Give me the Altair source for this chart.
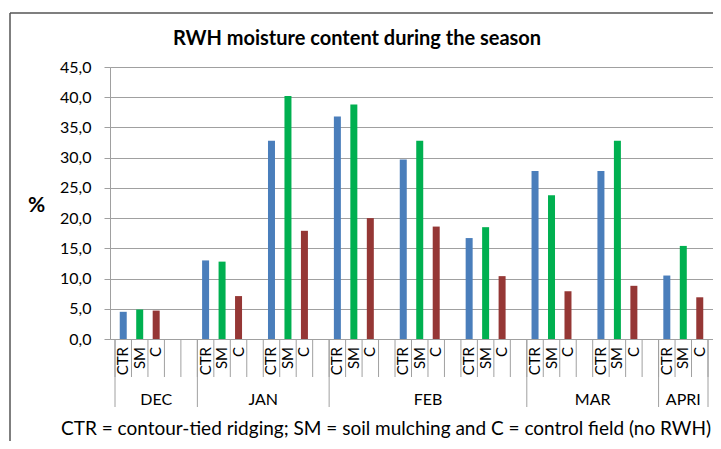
import altair as alt
import pandas as pd

# ---- data ----
treatments = ["CTR", "SM", "C"]
colors = ["#4A7EBB", "#00B050", "#953735"]
date_month = ["DEC", "JAN", "JAN", "FEB", "FEB", "FEB", "MAR", "MAR", "APRI"]
gap_after = [2, 1, 1, 1, 1, 1, 1, 1, 0]  # empty category slots after each date
ctr = [4.5, 13.0, 32.8, 36.8, 29.7, 16.7, 27.8, 27.8, 10.5]
sm = [4.9, 12.8, 40.2, 38.8, 32.8, 18.5, 23.8, 32.8, 15.4]
c = [4.7, 7.1, 17.9, 20.0, 18.6, 10.4, 7.9, 8.8, 6.9]
months = ["DEC", "JAN", "FEB", "MAR", "APRI"]
y_ticks = [0, 5, 10, 15, 20, 25, 30, 35, 40, 45]
title_text = "RWH moisture content during the season"
caption_text = "CTR = contour-tied ridging; SM = soil mulching and C = control field (no RWH)"

# ---- build slot table ----
rows, labels = [], []
slot = 0
month_span = {}
for i, m in enumerate(date_month):
    start = slot
    for t, v in zip(treatments, [ctr[i], sm[i], c[i]]):
        rows.append({"pos": slot + 0.5, "treatment": t, "value": v})
        labels.append({"pos": slot + 0.5, "label": t})
        slot += 1
    slot += gap_after[i]
    s, e = month_span.get(m, (start, slot))
    month_span[m] = (min(s, start), slot)
n_slots = slot

bars_df = pd.DataFrame(rows)
labels_df = pd.DataFrame(labels)
slot_bounds = pd.DataFrame({"b": list(range(n_slots + 1))})
month_bounds = sorted({v for m in months for v in month_span[m]})
month_bounds_df = pd.DataFrame({"b": month_bounds})
month_df = pd.DataFrame({"month": months,
                         "mid": [(month_span[m][0] + month_span[m][1]) / 2 for m in months]})
one = pd.DataFrame({"t": [0]})

W, H = 603, 272
FONT = "Lato"
GRID = "#A0A0A0"

xs = alt.Scale(domain=[0, n_slots], nice=False, zero=False)
ys = alt.Scale(domain=[0, 45], nice=False)

bars = alt.Chart(bars_df).mark_bar(size=7, orient="vertical").encode(
    x=alt.X("pos:Q", scale=xs, axis=None),
    y=alt.Y("value:Q", scale=ys, stack=None,
            axis=alt.Axis(values=y_ticks,
                          labelExpr="replace(format(datum.value, '.1f'), '.', ',')",
                          grid=True, gridColor=GRID, gridWidth=1,
                          domainColor=GRID, tickColor=GRID, tickSize=6,
                          labelFont=FONT, labelFontSize=16, labelColor="#000",
                          labelPadding=13,
                          title="%", titleAngle=0, titleFont=FONT, titleFontSize=21,
                          titleFontWeight="bold", titleColor="#000",
                          titleX=-74, titleY=138, titleAlign="center",
                          titleBaseline="middle")),
    color=alt.Color("treatment:N", scale=alt.Scale(domain=treatments, range=colors),
                    legend=None),
)

slot_rules = alt.Chart(slot_bounds).mark_rule(color=GRID, strokeWidth=1).encode(
    x=alt.X("b:Q", scale=xs, axis=None),
    y=alt.value(H), y2=alt.value(H + 38),
)

month_rules = alt.Chart(month_bounds_df).mark_rule(color=GRID, strokeWidth=1).encode(
    x=alt.X("b:Q", scale=xs, axis=None),
    y=alt.value(H), y2=alt.value(H + 68),
)

cat_labels = alt.Chart(labels_df).mark_text(
    angle=270, align="right", baseline="middle", font=FONT, fontSize=15, color="#000"
).encode(
    x=alt.X("pos:Q", scale=xs, axis=None),
    y=alt.value(H + 8),
    text="label:N",
)

month_labels = alt.Chart(month_df).mark_text(
    align="center", baseline="middle", font=FONT, fontSize=16, color="#000"
).encode(
    x=alt.X("mid:Q", scale=xs, axis=None),
    y=alt.value(H + 61),
    text="month:N",
)

caption = alt.Chart(one).mark_text(
    align="center", baseline="alphabetic", font=FONT, fontSize=19, color="#000"
).encode(x=alt.value(276), y=alt.value(H + 96), text=alt.value(caption_text))

title = alt.Chart(one).mark_text(
    align="center", baseline="middle", font=FONT, fontSize=20, fontWeight="bold",
    color="#000"
).encode(x=alt.value(247), y=alt.value(-28), text=alt.value(title_text))

frame_v = alt.Chart(one).mark_rule(color="#555555", strokeWidth=1.5).encode(
    x=alt.value(-100), y=alt.value(-54), y2=alt.value(H + 140))
frame_h = alt.Chart(one).mark_rule(color="#555555", strokeWidth=1.5).encode(
    x=alt.value(-100), x2=alt.value(W + 20), y=alt.value(-54))

chart = alt.layer(
    bars, slot_rules, month_rules, cat_labels, month_labels, caption, title,
    frame_v, frame_h
).properties(
    width=W, height=H,
    autosize=alt.AutoSizeParams(type="none"),
    padding={"left": 102, "top": 59, "right": 0, "bottom": 102},
).configure_view(stroke=None).configure(background="white")

chart.save("out.html", embed_options={"renderer": "svg", "actions": False})
